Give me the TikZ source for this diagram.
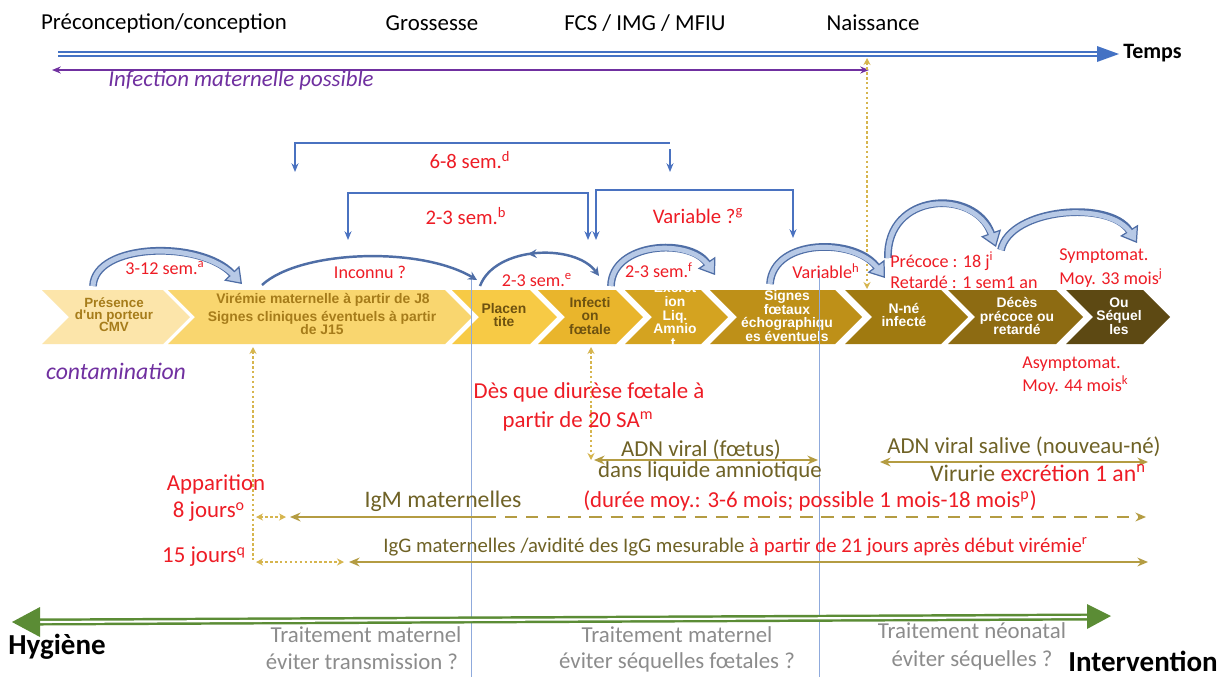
\documentclass[tikz,border=0pt]{standalone}
\usepackage{fontspec}
\setmainfont{Carlito}
\newfontfamily\chevfont{Liberation Sans}
\usetikzlibrary{arrows.meta,decorations.markings}
\definecolor{myred}{HTML}{EE1C25}
\definecolor{tblue}{HTML}{4472C4}
\definecolor{purp}{HTML}{7030A0}
\definecolor{brkblue}{HTML}{4A72C0}
\definecolor{arcdark}{HTML}{4F6EA6}
\definecolor{arclight}{HTML}{B7C9E6}
\definecolor{olive}{HTML}{B49C42}
\definecolor{olivetxt}{HTML}{6F6226}
\definecolor{dotc}{HTML}{D6B54E}
\definecolor{vblue}{HTML}{8FAADC}
\definecolor{gtxt}{HTML}{8C8C8C}
\definecolor{gline}{HTML}{5B8C35}
\definecolor{cA}{HTML}{FCE5AA}
\definecolor{cB}{HTML}{F9D66F}
\definecolor{cC}{HTML}{F7CA45}
\definecolor{cD}{HTML}{E9B52C}
\definecolor{cE}{HTML}{D4A320}
\definecolor{cF}{HTML}{BE9018}
\definecolor{cG}{HTML}{A07A10}
\definecolor{cH}{HTML}{8D6B12}
\definecolor{cI}{HTML}{5D4913}
\definecolor{tA}{HTML}{A67C1A}
\definecolor{tC}{HTML}{6E5210}
\newcommand\chevpath[2]{(#1,290) -- ({#2-27},290) -- (#2,317) -- ({#2-27},344) -- (#1,344) -- ({#1+27},317) -- cycle}
\tikzset{
  toplbl/.style={font=\fontsize{13}{15}\selectfont, inner sep=0pt},
  redlbl/.style={text=myred, font=\fontsize{11.8}{14}\selectfont, inner sep=0pt},
  redbig/.style={text=myred, font=\fontsize{13}{15}\selectfont, inner sep=0pt},
  arclbl/.style={text=myred, font=\fontsize{10.3}{12}\selectfont, inner sep=0pt},
  olt/.style={text=olivetxt, font=\fontsize{13}{15}\selectfont, inner sep=0pt},
  graytxt/.style={text=gtxt, font=\fontsize{13}{15}\selectfont, inner sep=0pt},
  bigbold/.style={font=\fontsize{16.5}{18}\selectfont\bfseries, inner sep=0pt},
  purptxt/.style={text=purp, font=\fontsize{13}{15}\selectfont\itshape, inner sep=0pt},
  chevtxt/.style={font=\chevfont\bfseries\fontsize{7.9}{7.8}\selectfont, align=center, inner sep=0pt},
  brk/.style={brkblue, line width=0.7pt},
  dotl/.style={dotc, line width=1.3pt, dash pattern=on 1.4pt off 1.4pt},
  oliveln/.style={olive, line width=1.4pt},
  blockarc/.style={arcdark, line width=4.4pt, -{Triangle[length=8.5pt,width=12pt,fill=arclight,line width=0.7pt]}},
  blockin/.style={arclight, line width=2.8pt, shorten >=6.5pt},
  thinarc/.style={arcdark, line width=1.4pt, -{Stealth[length=5pt,width=5pt]}},
  midrev/.style={postaction={decorate}, decoration={markings, mark=at position 0.5 with {\arrow{Stealth[length=5pt,width=5pt,reversed]}}}},
  tipsm/.style={-{Stealth[length=5pt,width=4pt]}},
}
\begin{document}
\begin{tikzpicture}[x=0.02cm,y=-0.02cm]
\useasboundingbox (0,0) rectangle (1221,677);
\fill[white] (0,0) rectangle (1221,677);

% top labels
\node[toplbl] (lpre) at (164,23) {Préconception/conception};
\node[toplbl] (lgro) at (432,23) {Grossesse};
\node[toplbl] (lfcs) at (645,23) {FCS / IMG / MFIU};
\node[toplbl] (lnai) at (873,23) {Naissance};

% time arrow
\coordinate (ts) at (58,54);
\coordinate (te) at (1098,54);
\draw[tblue, line width=0.9pt, double=white, double distance=1.1pt] (ts) -- (te);
\fill[tblue] (1097,46) -- (1119,54) -- (1097,62) -- cycle;
\node[font=\fontsize{12.5}{14}\selectfont\bfseries, anchor=west, inner sep=0pt] (temps) at (1123,53) {Temps};

% purple arrow
\coordinate (ps) at (52,70);
\coordinate (pe) at (869,70);
\draw[purp, line width=0.8pt, {Stealth[length=5pt,width=4pt]}-{Stealth[length=5pt,width=4pt]}] (ps) -- (pe);
\node[purptxt] (infm) at (241,80) {Infection maternelle possible};

% naissance dotted
\coordinate (n1) at (867,58);
\coordinate (n2) at (867,289);
\draw[dotl, {Stealth[length=4pt,width=4pt]}-{Stealth[length=4pt,width=4pt]}] (n1) -- (n2);

% brackets
\coordinate (k1a) at (295,172);
\coordinate (k1b) at (670,143);
\coordinate (k1c) at (670,149);
\coordinate (k1d) at (670,172);
\draw[brk, {Stealth[length=5pt,width=4pt]}-] (k1a) |- (k1b);
\draw[brk, tipsm] (k1c) -- (k1d);
\node[redlbl] (l68) at (470,160) {6-8 sem.\textsuperscript{d}};

\coordinate (k2a) at (348,240);
\coordinate (k2b) at (468,193);
\coordinate (k2c) at (588,240);
\draw[brk, {Stealth[length=5pt,width=4pt]}-{Stealth[length=5pt,width=4pt]}] (k2a) |- (k2b) -| (k2c);
\node[redlbl] (l23b) at (466,216) {2-3 sem.\textsuperscript{b}};

\coordinate (k3a) at (596,240);
\coordinate (k3b) at (694,190);
\coordinate (k3c) at (793,238);
\draw[brk, {Stealth[length=5pt,width=4pt]}-{Stealth[length=5pt,width=4pt]}] (k3a) |- (k3b) -| (k3c);
\node[redlbl] (lvarg) at (698,216) {Variable ?\textsuperscript{g}};

% chevrons
\fill[cA] \chevpath{42}{190};
\fill[cB] \chevpath{168}{472};
\fill[cC] \chevpath{452}{557};
\fill[cD] \chevpath{538}{643};
\fill[cE] \chevpath{625}{728};
\fill[cF] \chevpath{710}{862};
\fill[cG] \chevpath{845}{968};
\fill[cH] \chevpath{948}{1083};
\fill[cI] \chevpath{1066}{1170};

\node[chevtxt, text=tA, font=\chevfont\bfseries\fontsize{7.6}{6.9}\selectfont] (ch1) at (114,315) {Présence\\d'un porteur\\CMV};
\node[chevtxt, text=tA] (ch2a) at (323,300) {Virémie maternelle à partir de J8};
\node[chevtxt, text=tA] (ch2b) at (322,323) {Signes cliniques éventuels à partir\\de J15};
\node[chevtxt, text=tC] (ch3) at (504,315) {Placen\\tite};
\node[chevtxt, text=tC] (ch4) at (590,316) {Infecti\\on\\fœtale};
\begin{scope}
\clip \chevpath{625}{728};
\node[chevtxt, text=white] (ch5) at (675,315) {Excrét\\ion\\Liq.\\Amnio\\t.};
\end{scope}
\begin{scope}
\clip \chevpath{710}{862};
\node[chevtxt, text=white] (ch6) at (787,316) {Signes\\fœtaux\\échographiqu\\es éventuels};
\end{scope}
\node[chevtxt, text=white] (ch7) at (904,315) {N-né\\infecté};
\node[chevtxt, text=white] (ch8) at (1017,316) {Décès\\précoce ou\\retardé};
\node[chevtxt, text=white] (ch9) at (1119,316) {Ou\\Séquel\\les};

% blue vertical lines
\coordinate (v1a) at (471,277);
\coordinate (v1b) at (471,677);
\coordinate (v2a) at (819,270);
\coordinate (v2b) at (819,677);
\draw[vblue, line width=0.5pt] (v1a) -- (v1b);
\draw[vblue, line width=0.5pt] (v2a) -- (v2b);

% arcs
\coordinate (a1s) at (93,286);
\coordinate (a1e) at (242,284);
\draw[blockarc] (a1s) .. controls (95,243) and (200,240) .. (a1e);
\draw[blockin] (a1s) .. controls (95,243) and (200,240) .. (a1e);
\node[arclbl] (l312) at (165,268) {3-12 sem.\textsuperscript{a}};

\coordinate (a2s) at (262,285);
\coordinate (a2e) at (477,280);
\draw[thinarc] (a2s) .. controls (300,250) and (420,246) .. (a2e);
\node[arclbl] (linc) at (370,272) {Inconnu ?};

\coordinate (a3s) at (480,286);
\coordinate (a3e) at (599,276);
\draw[thinarc, midrev] (a3s) .. controls (495,246) and (575,243) .. (a3e);
\node[arclbl] (l23e) at (537,280) {2-3 sem.\textsuperscript{e}};

\coordinate (a4s) at (611,286);
\coordinate (a4e) at (715,275);
\draw[blockarc] (a4s) .. controls (612,242) and (690,238) .. (a4e);
\draw[blockin] (a4s) .. controls (612,242) and (690,238) .. (a4e);
\node[arclbl] (l23f) at (659,270) {2-3 sem.\textsuperscript{f}};

\coordinate (a5s) at (770,284);
\coordinate (a5e) at (885,278);
\draw[blockarc] (a5s) .. controls (773,238) and (855,238) .. (a5e);
\draw[blockin] (a5s) .. controls (773,238) and (855,238) .. (a5e);
\node[arclbl] (lvarh) at (826,271) {Variable\textsuperscript{h}};

\coordinate (a6s) at (888,258);
\coordinate (a6e) at (996,247);
\draw[blockarc] (a6s) .. controls (886,192) and (975,188) .. (a6e);
\draw[blockin] (a6s) .. controls (886,192) and (975,188) .. (a6e);

\coordinate (a7s) at (1001,250);
\coordinate (a7e) at (1137,243);
\draw[blockarc] (a7s) .. controls (1010,208) and (1110,200) .. (a7e);
\draw[blockin] (a7s) .. controls (1010,208) and (1110,200) .. (a7e);

\node[arclbl, anchor=west] (lpr) at (890,261) {Précoce : 18 j\textsuperscript{i}};
\node[arclbl, anchor=west] (lre) at (890,282) {Retardé : 1 sem1 an};
\node[arclbl, anchor=west] (lsy) at (1059,256) {Symptomat.};
\node[arclbl, anchor=west] (lm33) at (1059,278) {Moy. 33 mois\textsuperscript{j}};
\node[arclbl, anchor=west] (las) at (1022,364) {Asymptomat.};
\node[arclbl, anchor=west] (lm44) at (1022,385) {Moy. 44 mois\textsuperscript{k}};

% contamination
\node[purptxt, font=\fontsize{13.5}{15}\selectfont\itshape] (cont) at (116,371) {contamination};

% dotted verticals and horizontals
\coordinate (d1a) at (253,347);
\coordinate (d1b) at (253,562);
\draw[dotl, {Stealth[length=4pt,width=4pt]}-] (d1a) -- (d1b);
\coordinate (d2a) at (256,517);
\coordinate (d2b) at (286,517);
\draw[dotl, {Stealth[length=4pt,width=4pt]}-{Stealth[length=4pt,width=4pt]}] (d2a) -- (d2b);
\coordinate (d3a) at (256,562);
\coordinate (d3b) at (344,562);
\draw[dotl, {Stealth[length=4pt,width=4pt]}-{Stealth[length=4pt,width=4pt]}] (d3a) -- (d3b);
\coordinate (d4a) at (591,347);
\coordinate (d4b) at (591,460);
\draw[dotl, {Stealth[length=4pt,width=4pt]}-{Stealth[length=4pt,width=4pt]}] (d4a) -- (d4b);

% olive arrows
\coordinate (m1) at (290,517);
\coordinate (m2) at (484,517);
\coordinate (m3) at (1146,517);
\draw[oliveln, {Stealth[length=6pt,width=5pt]}-] (m1) -- (m2);
\draw[oliveln, dash pattern=on 7pt off 5pt, -{Stealth[length=6pt,width=5pt]}] (m2) -- (m3);
\coordinate (g1) at (349,562);
\coordinate (g2) at (1148,562);
\draw[oliveln, {Stealth[length=6pt,width=5pt]}-{Stealth[length=6pt,width=5pt]}] (g1) -- (g2);
\coordinate (f1) at (594,460);
\coordinate (f2) at (818,460);
\draw[oliveln, {Stealth[length=6pt,width=5pt]}-{Stealth[length=6pt,width=5pt]}] (f1) -- (f2);
\coordinate (s1) at (880,462);
\coordinate (s2) at (1148,462);
\draw[oliveln, {Stealth[length=6pt,width=5pt]}-{Stealth[length=6pt,width=5pt]}] (s1) -- (s2);

% texts
\node[redbig] (dia1) at (589,392) {Dès que diurèse fœtale à};
\node[redbig] (dia2) at (578,421) {partir de 20 SA\textsuperscript{m}};
\node[olt] (adnf1) at (701,450) {ADN viral (fœtus)};
\node[olt] (adnf2) at (710,471) {dans liquide amniotique};
\node[olt] (adns1) at (1024,447) {ADN viral salive (nouveau-né)};
\node[olt, font=\fontsize{13.5}{15}\selectfont] (adns2) at (1038,473) {Virurie \textcolor{myred}{excrétion 1 an\textsuperscript{n}}};
\node[redbig] (app) at (216,484) {Apparition};
\node[redbig] (j8) at (209,512) {8 jours\textsuperscript{o}};
\node[redbig] (j15) at (204,557) {15 jours\textsuperscript{q}};
\node[olt, font=\fontsize{13.5}{15}\selectfont] (igm) at (443,501) {IgM maternelles};
\node[redbig] (dur) at (810,501) {(durée moy.: 3-6 mois; possible 1 mois-18 mois\textsuperscript{p})};
\node[olt, anchor=west, font=\fontsize{11.8}{14}\selectfont] (igg) at (383,547) {IgG maternelles /avidité des IgG mesurable \textcolor{myred}{à partir de 21 jours après début virémie\textsuperscript{r}}};

% green arrow
\coordinate (gr1) at (38,622);
\coordinate (gr2) at (1090,617);
\draw[gline, line width=1.4pt, double=white, double distance=1.2pt] (gr1) -- (gr2);
\fill[gline] (12,622) -- (40,607) -- (40,637) -- cycle;
\fill[gline] (1111,616) -- (1087,604) -- (1087,629) -- cycle;

\node[bigbold, anchor=west] (hyg) at (8,647) {Hygiène};
\node[bigbold, anchor=east] (intv) at (1218,661) {Intervention};
\node[graytxt] (tr1a) at (366,635) {Traitement maternel};
\node[graytxt] (tr1b) at (362,662) {éviter transmission ?};
\node[graytxt] (tr2a) at (677,635) {Traitement maternel};
\node[graytxt] (tr2b) at (677,662) {éviter séquelles fœtales ?};
\node[graytxt] (tr3a) at (972,631) {Traitement néonatal};
\node[graytxt] (tr3b) at (972,660) {éviter séquelles ?};
\end{tikzpicture}
\end{document}
